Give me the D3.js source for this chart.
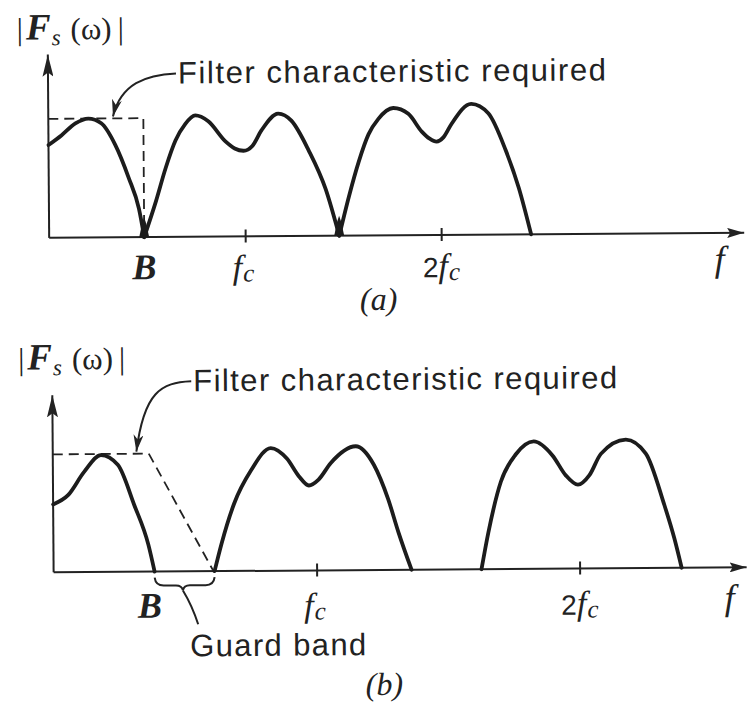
<!DOCTYPE html>
<html>
<head>
<meta charset="utf-8">
<script src="https://cdn.jsdelivr.net/npm/d3@7"></script>
<style>
  body { margin: 0; background: #fff; }
  .curve { fill: none; stroke: #1c1c1c; stroke-width: 3.8; stroke-linecap: round; stroke-linejoin: round; }
  .axis-line { stroke: #222; stroke-width: 2; fill: none; }
  .filter { fill: none; stroke: #222; stroke-width: 1.8; stroke-dasharray: 10,6; }
  .lead { fill: none; stroke: #222; stroke-width: 2; }
  .sans { font-family: "Liberation Sans", Arial, sans-serif; fill: #222; }
  .serif { font-family: "Liberation Serif", "Times New Roman", serif; fill: #222; }
</style>
</head>
<body>
<svg id="fig" width="747" height="703"></svg>
<script>
// frequency in units of fc, magnitude in units of the filter level
const bandsA = [
  [[0,0.78],[0.066,0.86],[0.138,0.96],[0.204,1.0],[0.27,0.96],[0.34,0.78],[0.408,0.5],[0.459,0.24],[0.485,0]],
  [[0.485,0],[0.546,0.3],[0.597,0.58],[0.648,0.81],[0.699,0.95],[0.75,1.02],[0.816,0.97],[0.903,0.8],[0.95,0.74],[0.995,0.72],[1.04,0.76],[1.087,0.89],[1.173,1.03],[1.24,0.97],[1.327,0.72],[1.413,0.39],[1.48,0]],
  [[1.48,0],[1.531,0.33],[1.582,0.62],[1.633,0.85],[1.684,0.98],[1.76,1.07],[1.837,1.02],[1.905,0.87],[1.945,0.81],[1.98,0.785],[2.015,0.82],[2.056,0.93],[2.158,1.1],[2.245,1.02],[2.332,0.71],[2.398,0.39],[2.459,0]]
];
const filterA = [[0,1],[0.485,1],[0.485,0]];
const cuspsA = [0.485, 1.48];

const bandsB = [
  [[0,0.576],[0.057,0.653],[0.118,0.847],[0.183,0.99],[0.247,0.907],[0.308,0.568],[0.361,0.229],[0.384,0]],
  [[0.612,0],[0.639,0.23],[0.688,0.57],[0.753,0.85],[0.829,1.04],[0.89,0.95],[0.935,0.8],[0.973,0.72],[1.01,0.77],[1.057,0.91],[1.152,1.05],[1.221,0.89],[1.274,0.6],[1.312,0.32],[1.361,0]],
  [[1.627,0],[1.654,0.31],[1.703,0.74],[1.76,0.97],[1.829,1.08],[1.9,0.96],[1.95,0.79],[1.996,0.71],[2.04,0.79],[2.084,0.97],[2.179,1.09],[2.255,0.97],[2.323,0.54],[2.361,0.25],[2.388,0]]
];
const filterB = [[0,1],[0.365,1],[0.608,0]];

const tickValues = [1, 2];
const tickLabels = [["f","c"], ["2f","c"]];
const axisName = "f";
const yLabel = "F";
const noteText = "Filter characteristic required";
const guardText = "Guard band";

const svg = d3.select("#fig");
svg.append("rect").attr("width", 747).attr("height", 703).attr("fill", "#fff");

const defs = svg.append("defs");
defs.append("marker").attr("id", "arrX")
  .attr("markerUnits", "userSpaceOnUse").attr("viewBox", "0 0 17 10")
  .attr("refX", 17).attr("refY", 5).attr("markerWidth", 17).attr("markerHeight", 10)
  .attr("orient", "auto")
  .append("path").attr("d", "M0,0 L17,5 L0,10 L3,5 Z").attr("fill", "#222");
defs.append("marker").attr("id", "arrY")
  .attr("markerUnits", "userSpaceOnUse").attr("viewBox", "0 0 22 11")
  .attr("refX", 22).attr("refY", 5.5).attr("markerWidth", 22).attr("markerHeight", 11)
  .attr("orient", "auto")
  .append("path").attr("d", "M0,0 L22,5.5 L0,11 L4,5.5 Z").attr("fill", "#222");
defs.append("marker").attr("id", "arrL")
  .attr("markerUnits", "userSpaceOnUse").attr("viewBox", "0 0 17 10")
  .attr("refX", 17).attr("refY", 5).attr("markerWidth", 17).attr("markerHeight", 10)
  .attr("orient", "auto")
  .append("path").attr("d", "M0,0 L17,5 L0,10 L5,5 Z").attr("fill", "#222");

// the scan is tilted slightly
const root = svg.append("g").attr("transform", "rotate(-0.42,373,350)");

const drawPanel = function (p) {
  const x = d3.scaleLinear().domain([0, 1]).range([p.x0, p.x0 + p.unit]);
  const y = d3.scaleLinear().domain([0, 1]).range([p.base, p.base - p.vunit]);
  const g = root.append("g");

  // axes
  g.append("line").attr("class", "axis-line")
    .attr("x1", x(0)).attr("y1", y(0)).attr("x2", x(p.xMax)).attr("y2", y(0))
    .attr("marker-end", "url(#arrX)");
  g.append("line").attr("class", "axis-line")
    .attr("x1", x(0)).attr("y1", y(0)).attr("x2", x(0)).attr("y2", y(p.yMax))
    .attr("marker-end", "url(#arrY)");

  const xAxis = d3.axisBottom(x).tickValues(tickValues).tickSize(6).tickFormat("");
  const xAxisG = g.append("g").attr("transform", `translate(0,${y(0)})`).call(xAxis);
  xAxisG.select(".domain").remove();
  xAxisG.selectAll(".tick line").attr("y1", -7).attr("y2", 6)
    .attr("stroke", "#222").attr("stroke-width", 2);

  const line = d3.line().x(d => x(d[0])).y(d => y(d[1])).curve(d3.curveMonotoneX);
  const lineFilter = d3.line().x(d => x(d[0])).y(d => y(d[1]));

  g.append("path").attr("class", "filter").attr("d", lineFilter(p.filter));

  p.bands.forEach(b => {
    g.append("path").attr("class", "curve").attr("d", line(b));
  });

  (p.cusps || []).forEach(c => {
    g.append("path")
      .attr("d", `M${x(c) - 5},${y(0)} L${x(c) + 5},${y(0)} L${x(c) + 2},${y(0) - 14} L${x(c)},${y(0) - 20} L${x(c) - 2},${y(0) - 14} Z`)
      .attr("fill", "#1c1c1c");
  });

  // y label |Fs(ω)|
  const t = g.append("text").attr("class", "serif")
    .attr("x", p.titleX).attr("y", p.titleY).attr("font-size", 31);
  t.append("tspan").text("|");
  t.append("tspan").attr("font-weight", "bold").attr("font-style", "italic").attr("font-size", 37).attr("dx", 3).text(yLabel);
  t.append("tspan").attr("font-style", "italic").attr("font-size", 23).attr("dy", 6).attr("dx", 1).text("s");
  t.append("tspan").attr("dy", -6).attr("dx", 10).text("(ω)");
  t.append("tspan").attr("dx", 6).text("|");

  // note + leader
  g.append("text").attr("class", "sans")
    .attr("x", p.noteX).attr("y", p.noteY).attr("font-size", 31)
    .attr("textLength", p.noteLen).attr("lengthAdjust", "spacing")
    .text(noteText);
  const tip = [x(p.tipU), y(1) - 2];
  const st = [p.noteX - 2, p.noteY - 10];
  g.append("path").attr("class", "lead")
    .attr("d", `M${st[0]},${st[1]} C${st[0] - 30},${st[1] + 1} ${tip[0] + 8},${st[1] + 10} ${tip[0]},${tip[1]}`)
    .attr("marker-end", "url(#arrL)");

  // tick labels
  g.append("text").attr("class", "serif")
    .attr("x", p.bX).attr("y", y(0) + p.labDy).attr("text-anchor", "middle")
    .attr("font-size", 36).attr("font-weight", "bold").attr("font-style", "italic")
    .text("B");
  tickValues.forEach((v, i) => {
    const lt = g.append("text").attr("class", "serif")
      .attr("x", x(v) + p.tickDx[i]).attr("y", y(0) + p.labDy).attr("text-anchor", "middle")
      .attr("font-size", 34);
    const main = tickLabels[i][0];
    if (main.length > 1) lt.append("tspan").attr("class", "sans").attr("font-size", 28).text(main[0]);
    lt.append("tspan").attr("font-style", "italic").text(main.slice(-1));
    lt.append("tspan").attr("font-style", "italic").attr("font-size", 25).attr("dy", 3).attr("dx", 1).text(tickLabels[i][1]);
  });
  g.append("text").attr("class", "serif")
    .attr("x", x(p.fU)).attr("y", y(0) + p.labDy - 4).attr("text-anchor", "middle")
    .attr("font-size", 36).attr("font-style", "italic").text(axisName);

  g.append("text").attr("class", "serif")
    .attr("x", p.capX).attr("y", p.capY).attr("text-anchor", "middle")
    .attr("font-size", 32).attr("font-style", "italic").text(p.cap);

  return { x, y, g };
};

drawPanel({
  x0: 50, unit: 196, base: 235.5, vunit: 119, xMax: 3.546, yMax: 1.54,
  bands: bandsA, filter: filterA, cusps: cuspsA,
  titleX: 19, titleY: 37, noteX: 180, noteY: 82, noteLen: 428, tipU: 0.33,
  bX: 145, labDy: 42, tickDx: [-2, 0], fU: 3.42, capX: 379, capY: 310, cap: "(a)"
});

const pb = drawPanel({
  x0: 52, unit: 263, base: 570, vunit: 118, xMax: 2.635, yMax: 1.5,
  bands: bandsB, filter: filterB,
  titleX: 18, titleY: 367, noteX: 193, noteY: 390, noteLen: 424, tipU: 0.318,
  bX: 148, labDy: 46, tickDx: [-2, 0], fU: 2.57, capX: 382, capY: 695, cap: "(b)"
});

// guard band brace between B and the start of the next band
const gx0 = pb.x(bandsB[0][bandsB[0].length - 1][0]);
const gx1 = pb.x(bandsB[1][0][0]);
const gy = pb.y(0) + 7;
const gm = gx0 + (gx1 - gx0) * 0.47;
pb.g.append("path").attr("class", "lead")
  .attr("d", `M${gx0},${gy - 1} Q${gx0 + 1},${gy + 7} ${gx0 + 9},${gy + 7} L${gm - 7},${gy + 7} Q${gm - 1},${gy + 7} ${gm},${gy + 12} Q${gm + 1},${gy + 7} ${gm + 7},${gy + 7} L${gx1 - 9},${gy + 7} Q${gx1 - 1},${gy + 7} ${gx1},${gy - 1}`);
pb.g.append("path").attr("class", "lead")
  .attr("d", `M${gm},${gy + 12} C${gm + 6},${gy + 22} ${gm + 10},${gy + 30} ${gm + 15},${gy + 46}`);
pb.g.append("text").attr("class", "sans")
  .attr("x", 188).attr("y", 655).attr("font-size", 31)
  .attr("textLength", 176).attr("lengthAdjust", "spacing")
  .text(guardText);
</script>
</body>
</html>
